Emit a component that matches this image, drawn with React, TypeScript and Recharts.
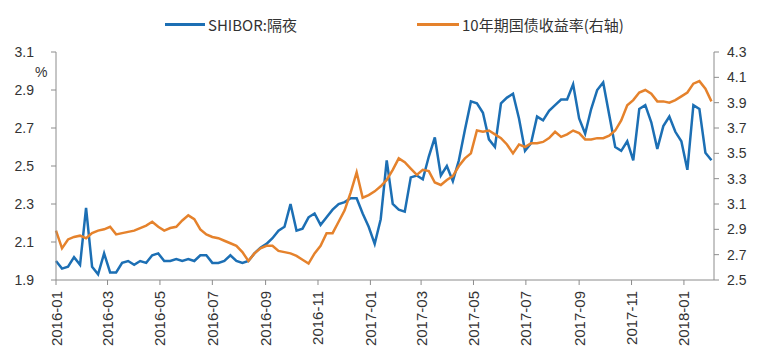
import { LineChart, Line, XAxis, YAxis } from 'recharts';

document.body.style.margin = '0';

const DAY = 24 * 3600 * 1000;
const START = Date.UTC(2016, 0, 1);

// weekly readings, starting 2016-01-01
const SHIBOR = [
    2.00, 1.96, 1.97, 2.02, 1.98, 2.28, 1.97, 1.93, 2.04, 1.94,
    1.94, 1.99, 2.00, 1.98, 2.00, 1.99, 2.03, 2.04, 2.00, 2.00,
    2.01, 2.00, 2.01, 2.00, 2.03, 2.03, 1.99, 1.99, 2.00, 2.03,
    2.00, 1.99, 2.00, 2.04, 2.07, 2.09, 2.12, 2.16, 2.18, 2.30,
    2.16, 2.17, 2.23, 2.25, 2.19, 2.23, 2.27, 2.30, 2.31, 2.33,
    2.33, 2.25, 2.18, 2.09, 2.22, 2.53, 2.30, 2.27, 2.26, 2.44,
    2.45, 2.43, 2.55, 2.65, 2.45, 2.50, 2.42, 2.53, 2.69, 2.84,
    2.83, 2.78, 2.64, 2.60, 2.83, 2.86, 2.88, 2.75, 2.58, 2.62,
    2.76, 2.74, 2.79, 2.82, 2.85, 2.85, 2.93, 2.75, 2.67, 2.80,
    2.90, 2.94, 2.77, 2.60, 2.58, 2.63, 2.53, 2.80, 2.82, 2.73,
    2.59, 2.71, 2.76, 2.68, 2.63, 2.48, 2.82, 2.80, 2.57, 2.53,
];

const CGB10Y = [
    2.89, 2.75, 2.82, 2.84, 2.85, 2.83, 2.87, 2.89, 2.90, 2.92,
    2.86, 2.87, 2.88, 2.89, 2.91, 2.93, 2.96, 2.92, 2.89, 2.91,
    2.92, 2.97, 3.01, 2.98, 2.90, 2.86, 2.84, 2.83, 2.81, 2.79,
    2.77, 2.72, 2.65, 2.71, 2.75, 2.77, 2.77, 2.73, 2.72, 2.71,
    2.69, 2.66, 2.63, 2.71, 2.77, 2.87, 2.87, 2.96, 3.05, 3.19,
    3.35, 3.15, 3.17, 3.20, 3.24, 3.29, 3.37, 3.46, 3.43, 3.38,
    3.33, 3.37, 3.36, 3.27, 3.25, 3.29, 3.32, 3.40, 3.46, 3.50,
    3.68, 3.67, 3.68, 3.65, 3.62, 3.57, 3.50, 3.57, 3.55, 3.58,
    3.58, 3.59, 3.62, 3.67, 3.63, 3.65, 3.68, 3.66, 3.61, 3.61,
    3.62, 3.62, 3.64, 3.68, 3.76, 3.88, 3.92, 3.98, 4.00, 3.97,
    3.91, 3.91, 3.90, 3.92, 3.95, 3.98, 4.05, 4.07, 4.01, 3.91,
];

const X_TICKS = [
    '2016-01', '2016-03', '2016-05', '2016-07', '2016-09', '2016-11',
    '2017-01', '2017-03', '2017-05', '2017-07', '2017-09', '2017-11', '2018-01',
];
const LEFT_TICKS = [1.9, 2.1, 2.3, 2.5, 2.7, 2.9, 3.1];
const RIGHT_TICKS = [2.5, 2.7, 2.9, 3.1, 3.3, 3.5, 3.7, 3.9, 4.1, 4.3];

const BLUE = '#1c6fb4';
const ORANGE = '#e5822c';
const AXIS = '#8c8c8c';
const TEXT = '#333';
const FONT = '"Liberation Sans", Arial, sans-serif';

const monthTs = (s: string) => {
    const [y, m] = s.split('-').map(Number);
    return Date.UTC(y, m - 1, 1);
};

const data = SHIBOR.map((v, i) => ({ t: START + i * 7 * DAY, shibor: v, cgb: CGB10Y[i] }));

const DateTick = (props: any) => {
    const { x, y, payload } = props;
    const d = new Date(payload.value);
    const label = `${d.getUTCFullYear()}-${String(d.getUTCMonth() + 1).padStart(2, '0')}`;
    return (
        <g transform={`translate(${x},${y + 4})`}>
            <text transform="rotate(-90)" textAnchor="end" dominantBaseline="central" fill={TEXT} fontSize={15} fontFamily={FONT}>
                {label}
            </text>
        </g>
    );
};

export default function App() {
    return (
        <div style={{ position: 'relative', width: 768, height: 360, background: '#fff' }}>
            <div style={{ position: 'absolute', top: 14, left: 0, width: 768, fontFamily: FONT, fontSize: 15, color: TEXT }}>
                <div style={{ position: 'absolute', left: 165, display: 'flex', alignItems: 'center', whiteSpace: 'nowrap' }}>
                    <span style={{ width: 40, height: 3, background: BLUE, display: 'inline-block', marginRight: 3 }} />
                    <span style={{ fontFamily: '"Noto Sans CJK SC", ' + FONT }}>SHIBOR:隔夜</span>
                </div>
                <div style={{ position: 'absolute', left: 417, display: 'flex', alignItems: 'center', whiteSpace: 'nowrap' }}>
                    <span style={{ width: 42, height: 3, background: ORANGE, display: 'inline-block', marginRight: 3 }} />
                    <span style={{ fontFamily: '"Noto Sans CJK SC", ' + FONT }}>10年期国债收益率(右轴)</span>
                </div>
            </div>
            <div style={{ position: 'absolute', left: 35, top: 64, fontFamily: FONT, fontSize: 14, color: TEXT }}>%</div>
            <LineChart width={768} height={360} data={data} margin={{ top: 52, right: 0, bottom: 0, left: 0 }}>
                <XAxis
                    dataKey="t"
                    type="number"
                    scale="time"
                    domain={[START, START + 766 * DAY]}
                    ticks={X_TICKS.map(monthTs)}
                    tick={<DateTick />}
                    height={80}
                    stroke={AXIS}
                    tickSize={5}
                    interval={0}
                />
                <YAxis
                    yAxisId="left"
                    domain={[1.9, 3.1]}
                    ticks={LEFT_TICKS}
                    width={56}
                    stroke={AXIS}
                    tickSize={5}
                    tickMargin={17}
                    tickFormatter={(v) => v.toFixed(1)}
                    tick={{ fill: TEXT, fontSize: 14, fontFamily: FONT }}
                    allowDataOverflow
                />
                <YAxis
                    yAxisId="right"
                    orientation="right"
                    domain={[2.5, 4.3]}
                    ticks={RIGHT_TICKS}
                    width={54}
                    stroke={AXIS}
                    tickSize={5}
                    tickMargin={8}
                    tickFormatter={(v) => v.toFixed(1)}
                    tick={{ fill: TEXT, fontSize: 14, fontFamily: FONT }}
                    allowDataOverflow
                />
                <Line yAxisId="left" dataKey="shibor" stroke={BLUE} strokeWidth={2.5} dot={false} isAnimationActive={false} />
                <Line yAxisId="right" dataKey="cgb" stroke={ORANGE} strokeWidth={2.5} dot={false} isAnimationActive={false} />
            </LineChart>
        </div>
    );
}
